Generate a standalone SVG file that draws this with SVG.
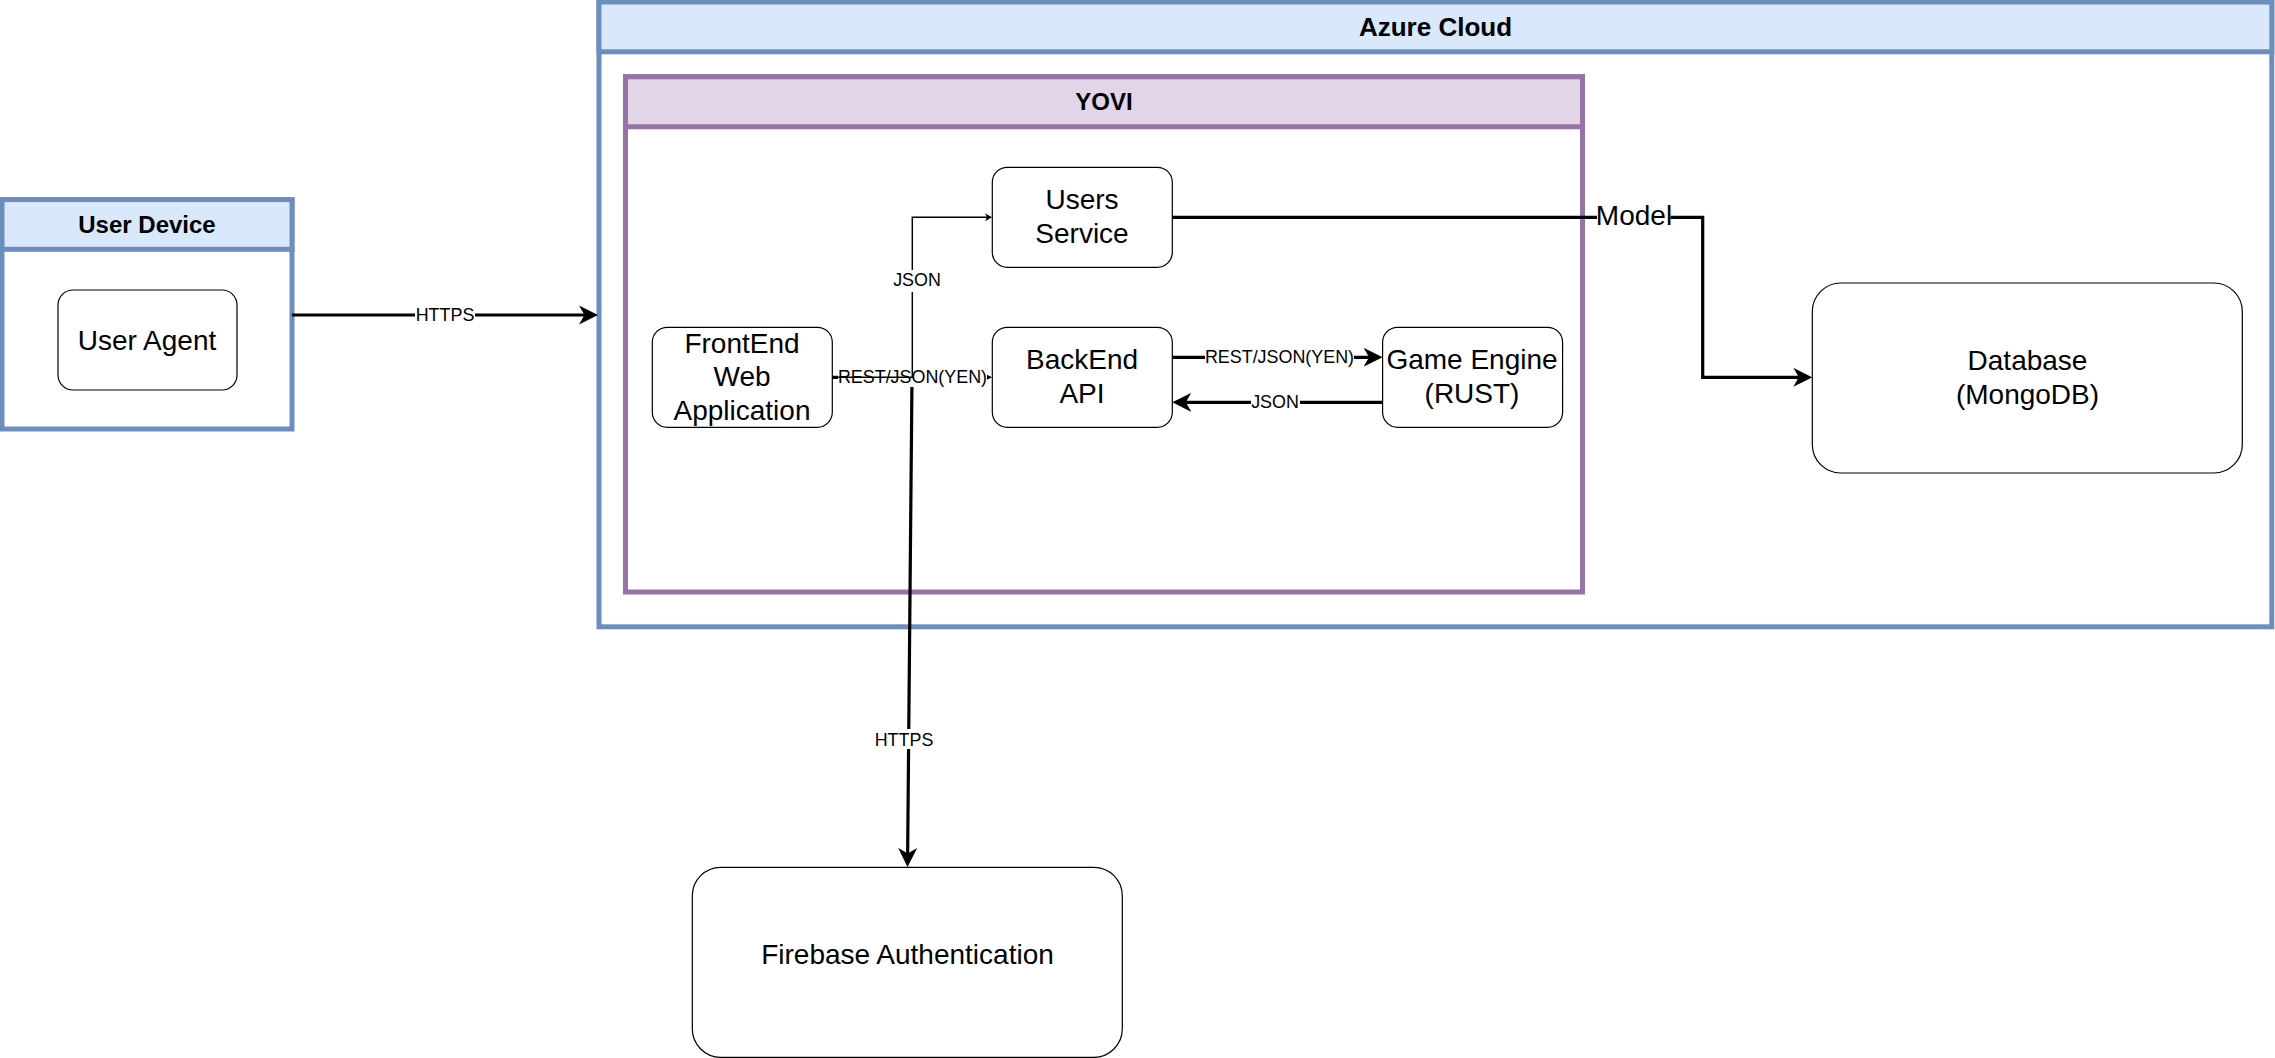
<svg xmlns="http://www.w3.org/2000/svg" width="2275" height="1058" viewBox="0 0 2275 1058">
  <style>
    text { font-family: "Liberation Sans", Arial, sans-serif; text-anchor: middle; fill: #000; }
    .title { font-size: 24px; font-weight: bold; }
    .title-l { font-size: 26px; font-weight: bold; }
    .node { font-size: 28px; }
    .edge { font-size: 17.900px; }
    .blue { fill: #dae8fc; stroke: #6c8ebf; stroke-width: 5; }
    .purple { fill: #e1d5e7; stroke: #9673a6; stroke-width: 5; }
    .bluebody { fill: #fff; stroke: #6c8ebf; stroke-width: 5; }
    .purplebody { fill: #fff; stroke: #9673a6; stroke-width: 5; }
    .box { fill: #fff; stroke: #000; stroke-width: 1.200; }
    .thick { fill: none; stroke: #000; stroke-width: 3.200; }
    .thin { fill: none; stroke: #000; stroke-width: 1.450; }
    .bg { fill: #fff; stroke: none; }
  </style>
  <defs>
    <marker id="big" markerUnits="userSpaceOnUse" viewBox="0 0 19 20" refX="9" refY="10" markerWidth="19" markerHeight="20" orient="auto">
      <path d="M19 10L0 0.500L5.500 10L0 19.500Z" fill="#000"/>
    </marker>
    <marker id="small" markerUnits="userSpaceOnUse" viewBox="0 0 8 8" refX="3" refY="4" markerWidth="8" markerHeight="8" orient="auto">
      <path d="M7 4L0 0L2 4L0 8Z" fill="#000"/>
    </marker>
  </defs>

  <g id="azure-cloud">
    <rect class="bluebody" x="599" y="2" width="1672.800" height="624.800"/>
    <rect class="blue" x="599" y="2" width="1672.800" height="49.800"/>
    <text class="title-l" x="1435.500" y="36">Azure Cloud</text>
  </g>
  <g id="yovi">
    <rect class="purplebody" x="625.500" y="76.800" width="957" height="515.200"/>
    <rect class="purple" x="625.500" y="76.800" width="957" height="50"/>
    <text class="title" x="1104" y="110">YOVI</text>
  </g>
  <g id="user-device">
    <rect class="bluebody" x="2" y="199.600" width="290" height="229.400"/>
    <rect class="blue" x="2" y="199.600" width="290" height="49.700"/>
    <text class="title" x="147" y="232.500">User Device</text>
  </g>
  <g id="user-agent">
    <rect class="box" x="58" y="290" width="179" height="100" rx="15"/>
    <text class="node" x="147" y="350">User Agent</text>
  </g>
  <g id="frontend">
    <rect class="box" x="652.300" y="327.300" width="180" height="100" rx="15"/>
    <text class="node" x="742" y="353">FrontEnd</text>
    <text class="node" x="742" y="386">Web</text>
    <text class="node" x="742" y="419.500">Application</text>
  </g>
  <g id="users-service">
    <rect class="box" x="992.300" y="167.300" width="180" height="100" rx="15"/>
    <text class="node" x="1082" y="209">Users</text>
    <text class="node" x="1082" y="243">Service</text>
  </g>
  <g id="backend-api">
    <rect class="box" x="992.300" y="327.300" width="180" height="100" rx="15"/>
    <text class="node" x="1082" y="369">BackEnd</text>
    <text class="node" x="1082" y="403">API</text>
  </g>
  <g id="game-engine">
    <rect class="box" x="1382.600" y="327.300" width="180" height="100" rx="15"/>
    <text class="node" x="1472" y="369">Game Engine</text>
    <text class="node" x="1472" y="403">(RUST)</text>
  </g>
  <g id="database">
    <rect class="box" x="1812.300" y="283" width="430" height="190" rx="28.500"/>
    <text class="node" x="2027.500" y="370">Database</text>
    <text class="node" x="2027.500" y="404">(MongoDB)</text>
  </g>
  <g id="firebase">
    <rect class="box" x="692.300" y="867.300" width="430" height="190" rx="28.500"/>
    <text class="node" x="907.500" y="964">Firebase Authentication</text>
  </g>

  <g id="connectors">
    <path class="thick" d="M292 315H588" marker-end="url(#big)"/>
    <rect class="bg" x="415" y="305" width="60" height="20"/>
    <text class="edge" x="445" y="320.700">HTTPS</text>

    <path class="thick" d="M832.300 377.300H982" marker-end="url(#big)"/>
    <path class="thick" d="M912 377.300L907.600 857" marker-end="url(#big)"/>
    <rect class="bg" x="838" y="367" width="149" height="20"/>
    <text class="edge" x="912.500" y="383">REST/JSON(YEN)</text>
    <rect class="bg" x="875" y="729" width="58" height="20"/>
    <text class="edge" x="904" y="746">HTTPS</text>

    <path class="thin" d="M832.300 377.300H912.300V217.300H988" marker-end="url(#small)"/>
    <rect class="bg" x="892" y="270" width="50" height="22"/>
    <text class="edge" x="917" y="285.700">JSON</text>

    <path class="thick" d="M1172.300 357.300H1372.600" marker-end="url(#big)"/>
    <rect class="bg" x="1205" y="347" width="149" height="20"/>
    <text class="edge" x="1279.500" y="363">REST/JSON(YEN)</text>

    <path class="thick" d="M1382.600 402.300H1182.300" marker-end="url(#big)"/>
    <rect class="bg" x="1251" y="392" width="49" height="20"/>
    <text class="edge" x="1275" y="408">JSON</text>

    <path class="thick" d="M1172.300 217.300H1702.700V377.300H1802.300" marker-end="url(#big)"/>
    <rect class="bg" x="1597" y="200" width="73.500" height="34"/>
    <text class="node" x="1634" y="225">Model</text>
  </g>
</svg>
